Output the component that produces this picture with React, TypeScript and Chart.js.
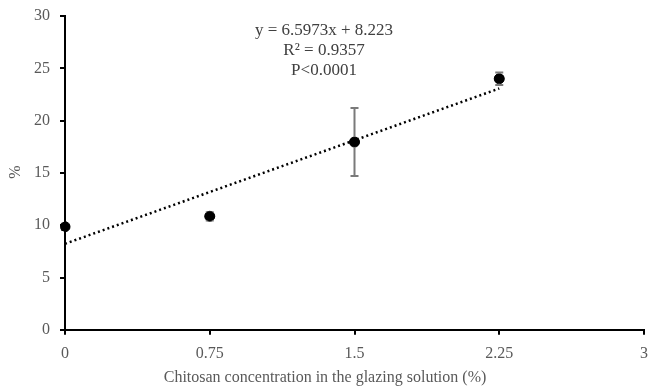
import React, { useEffect, useRef } from "react";
import { Chart, registerables } from "chart.js";
Chart.register(...registerables);

const concentrations = [0, 0.75, 1.5, 2.25];
const means = [9.85, 10.85, 17.95, 24.0];
const errors = [0.3, 0.4, 3.25, 0.6];
const slope = 6.5973;
const intercept = 8.223;
const trendX = [0, 2.25];
const xTicks = [0, 0.75, 1.5, 2.25, 3];
const annotationLines = ["y = 6.5973x + 8.223", "R² = 0.9357", "P<0.0001"];
const xTitle = "Chitosan concentration in the glazing solution (%)";
const yTitle = "%";

const FONT = "'Liberation Serif', 'Times New Roman', serif";

const errorBarPlugin = {
  id: "errorBars",
  afterDatasetsDraw(chart: any) {
    const ctx = chart.ctx;
    const xs = chart.scales.x;
    const ys = chart.scales.y;
    ctx.save();
    ctx.strokeStyle = "#7a7a7a";
    ctx.lineWidth = 2;
    concentrations.forEach((c, i) => {
      const err = errors[i];
      const px = xs.getPixelForValue(c);
      const top = ys.getPixelForValue(means[i] + err);
      const bot = ys.getPixelForValue(means[i] - err);
      ctx.beginPath();
      ctx.moveTo(px, top);
      ctx.lineTo(px, bot);
      ctx.moveTo(px - 4, top);
      ctx.lineTo(px + 4, top);
      ctx.moveTo(px - 4, bot);
      ctx.lineTo(px + 4, bot);
      ctx.stroke();
    });
    ctx.fillStyle = "#000";
    concentrations.forEach((c, i) => {
      const px = xs.getPixelForValue(c);
      const py = ys.getPixelForValue(means[i]);
      ctx.beginPath();
      ctx.arc(px, py, 5, 0, Math.PI * 2);
      ctx.fill();
    });
    ctx.fillStyle = "#404040";
    ctx.font = `17px ${FONT}`;
    ctx.textAlign = "center";
    ctx.textBaseline = "middle";
    annotationLines.forEach((t, i) => {
      ctx.fillText(t, 324, 31 + i * 20);
    });
    ctx.fillStyle = "#595959";
    ctx.font = `16px ${FONT}`;
    ctx.fillText(xTitle, 325, 378);
    ctx.translate(16, 172);
    ctx.rotate(-Math.PI / 2);
    ctx.fillText(yTitle, 0, 0);
    ctx.restore();
  },
};

export default function App() {
  const ref = useRef<HTMLCanvasElement>(null);
  useEffect(() => {
    if (!ref.current) return;
    const chart = new Chart(ref.current, {
      type: "scatter",
      data: {
        datasets: [
          {
            label: "trend",
            type: "line",
            data: trendX.map((x) => ({ x, y: slope * x + intercept })),
            borderColor: "#000",
            borderWidth: 2.5,
            borderDash: [2, 3],
            pointRadius: 0,
            fill: false,
          },
          {
            label: "data",
            data: concentrations.map((x, i) => ({ x, y: means[i] })),
            backgroundColor: "#000",
            borderColor: "#000",
            pointRadius: 5,
          },
        ],
      },
      options: {
        animation: false,
        responsive: false,
        maintainAspectRatio: false,
        layout: { padding: { top: 16, right: 0, bottom: 15, left: 0 } },
        plugins: {
          legend: { display: false },
          tooltip: { enabled: false },
        },
        scales: {
          x: {
            type: "linear",
            min: 0,
            max: 3,
            afterBuildTicks: (s: any) => {
              s.ticks = xTicks.map((v) => ({ value: v }));
            },
            afterFit: (s: any) => {
              s.paddingRight = 2;
              s.paddingLeft = 0;
            },
            border: { color: "#000", width: 2 },
            grid: {
              drawOnChartArea: false,
              drawTicks: true,
              tickLength: 5,
              color: "#000",
              lineWidth: 2,
            },
            ticks: {
              color: "#595959",
              font: { family: FONT, size: 16 },
              padding: 9,
              maxRotation: 0,
              autoSkip: false,
              callback: (v: any) => String(v),
            },
          },
          y: {
            min: 0,
            max: 30,
            afterFit: (s: any) => {
              s.width = 65;
              s.paddingTop = 0;
              s.paddingBottom = 0;
            },
            border: { color: "#000", width: 2 },
            grid: {
              drawOnChartArea: false,
              drawTicks: true,
              tickLength: 5,
              color: "#000",
              lineWidth: 2,
            },
            ticks: {
              stepSize: 5,
              color: "#595959",
              font: { family: FONT, size: 16 },
              padding: 10,
            },
          },
        },
      },
      plugins: [errorBarPlugin],
    } as any);
    return () => chart.destroy();
  }, []);
  return (
    <div style={{ position: "absolute", left: 0, top: 0, width: 650, height: 387, background: "#fff" }}>
      <canvas ref={ref} width={650} height={387} style={{ width: 650, height: 387 }} />
    </div>
  );
}
